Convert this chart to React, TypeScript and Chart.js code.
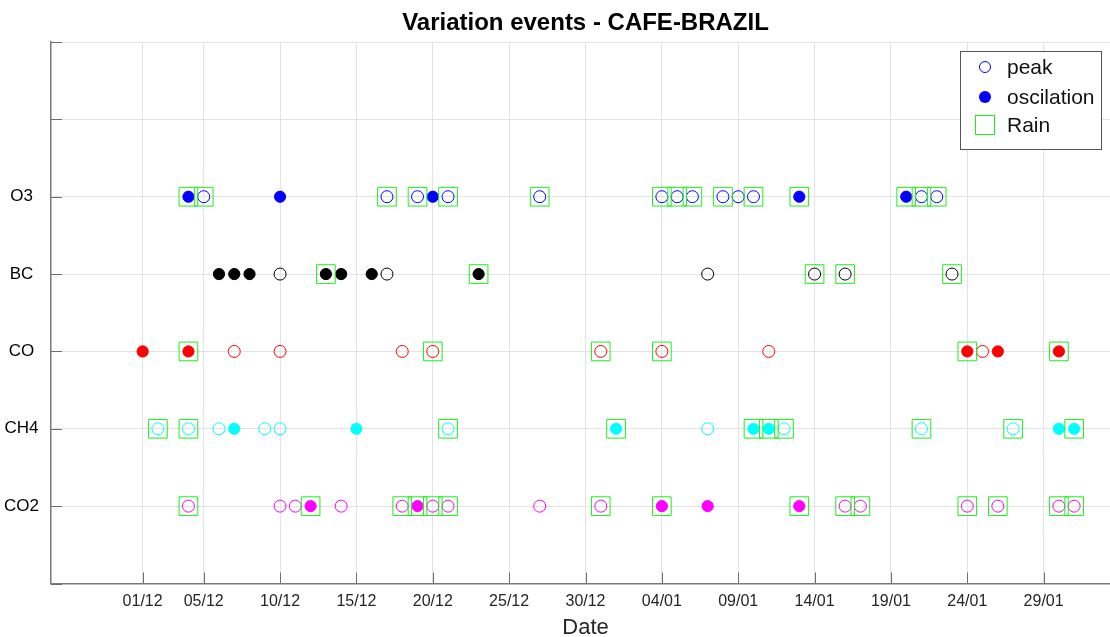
import React, { useEffect, useRef } from 'react';
import { Chart, registerables } from 'chart.js';

Chart.register(...registerables);

// ---------- data ----------
const chartTitle = 'Variation events - CAFE-BRAZIL';
const xAxisTitle = 'Date';
const species = ['CO2', 'CH4', 'CO', 'BC', 'O3'];
const tickLabels = ['01/12', '05/12', '10/12', '15/12', '20/12', '25/12', '30/12', '04/01', '09/01', '14/01', '19/01', '24/01', '29/01'];
const xStart = '25/11';
const xEnd = '03/02';
const legendLabels = ['peak', 'oscilation', 'Rain'];

const co2Peak = ['04/12', '10/12', '11/12', '14/12', '18/12', '20/12', '21/12', '27/12', '31/12', '16/01', '17/01', '24/01', '26/01', '30/01', '31/01'];
const co2Osc = ['12/12', '19/12', '04/01', '07/01', '13/01'];
const co2Rain = ['04/12', '12/12', '18/12', '19/12', '20/12', '21/12', '31/12', '04/01', '13/01', '16/01', '17/01', '24/01', '26/01', '30/01', '31/01'];

const ch4Peak = ['02/12', '04/12', '06/12', '09/12', '10/12', '21/12', '07/01', '12/01', '21/01', '27/01'];
const ch4Osc = ['07/12', '15/12', '01/01', '10/01', '11/01', '30/01', '31/01'];
const ch4Rain = ['02/12', '04/12', '21/12', '01/01', '10/01', '11/01', '12/01', '21/01', '27/01', '31/01'];

const coPeak = ['07/12', '10/12', '18/12', '20/12', '31/12', '04/01', '11/01', '25/01'];
const coOsc = ['01/12', '04/12', '24/01', '26/01', '30/01'];
const coRain = ['04/12', '20/12', '31/12', '04/01', '24/01', '30/01'];

const bcPeak = ['10/12', '17/12', '07/01', '14/01', '16/01', '23/01'];
const bcOsc = ['06/12', '07/12', '08/12', '13/12', '14/12', '16/12', '23/12'];
const bcRain = ['13/12', '23/12', '14/01', '16/01', '23/01'];

const o3Peak = ['05/12', '17/12', '19/12', '21/12', '27/12', '04/01', '05/01', '06/01', '08/01', '09/01', '10/01', '21/01', '22/01'];
const o3Osc = ['04/12', '10/12', '20/12', '13/01', '20/01'];
const o3Rain = ['04/12', '05/12', '17/12', '19/12', '21/12', '27/12', '04/01', '05/01', '06/01', '08/01', '10/01', '13/01', '20/01', '21/01', '22/01'];

const peaks = [co2Peak, ch4Peak, coPeak, bcPeak, o3Peak];
const oscs = [co2Osc, ch4Osc, coOsc, bcOsc, o3Osc];
const rains = [co2Rain, ch4Rain, coRain, bcRain, o3Rain];

// ---------- styles ----------
const colors = ['#ff00ff', '#00ffff', '#ff0000', '#000000', '#0000ff'];
const rainColor = '#1cf01c';
const FONT = '"Liberation Sans", Arial, Helvetica, sans-serif';

// days since 1 December
function dayIndex(s: string): number {
  const [d, m] = s.split('/').map(Number);
  if (m === 11) return d - 31;
  if (m === 12) return d - 1;
  if (m === 1) return 30 + d;
  return 61 + d;
}

const tickValues = tickLabels.map(dayIndex);

const toPoints = (dates: string[], row: number) => dates.map((d) => ({ x: dayIndex(d), y: row + 1 }));

const decorPlugin = {
  id: 'decor',
  beforeDatasetsDraw(chart: any) {
    const { ctx, chartArea, scales } = chart;
    const { left, bottom } = chartArea;
    ctx.save();
    ctx.strokeStyle = '#6e6e6e';
    ctx.lineWidth = 1;
    ctx.beginPath();
    for (const t of scales.y.ticks) {
      const py = Math.round(scales.y.getPixelForValue(t.value)) + 0.5;
      ctx.moveTo(left, py);
      ctx.lineTo(left + 11, py);
    }
    for (const t of scales.x.ticks) {
      const px = Math.round(scales.x.getPixelForValue(t.value)) + 0.5;
      ctx.moveTo(px, bottom);
      ctx.lineTo(px, bottom - 11);
    }
    ctx.stroke();
    ctx.restore();
  },
  afterDraw(chart: any) {
    const ctx = chart.ctx;
    ctx.save();
    const bx = 960.5, by = 51.5, bw = 141, bh = 98;
    ctx.fillStyle = '#ffffff';
    ctx.fillRect(bx, by, bw, bh);
    ctx.strokeStyle = '#555555';
    ctx.lineWidth = 1;
    ctx.strokeRect(bx, by, bw, bh);
    const mx = 985;
    const rowsY = [67, 97, 125];
    // peak
    ctx.beginPath();
    ctx.arc(mx, rowsY[0], 5.5, 0, Math.PI * 2);
    ctx.strokeStyle = colors[4];
    ctx.stroke();
    // oscillation
    ctx.beginPath();
    ctx.arc(mx, rowsY[1], 6, 0, Math.PI * 2);
    ctx.fillStyle = colors[4];
    ctx.fill();
    // rain
    ctx.strokeStyle = rainColor;
    ctx.strokeRect(mx - 9.5, rowsY[2] - 9.5, 19, 19);
    ctx.fillStyle = '#111111';
    ctx.font = `21px ${FONT}`;
    ctx.textBaseline = 'middle';
    ctx.textAlign = 'left';
    legendLabels.forEach((l, i) => ctx.fillText(l, 1007, rowsY[i] + 1));
    ctx.restore();
  },
};

export default function App() {
  const ref = useRef<HTMLCanvasElement>(null);

  useEffect(() => {
    if (!ref.current) return;
    const datasets: any[] = [];
    species.forEach((sp, i) => {
      datasets.push({
        label: sp + ' peak',
        data: toPoints(peaks[i], i),
        pointStyle: 'circle',
        pointRadius: 6,
        pointBorderWidth: 1,
        borderColor: colors[i],
        backgroundColor: 'rgba(0,0,0,0)',
        order: 2,
      });
      datasets.push({
        label: sp + ' oscillation',
        data: toPoints(oscs[i], i),
        pointStyle: 'circle',
        pointRadius: 5.6,
        pointBorderWidth: 1,
        borderColor: colors[i],
        backgroundColor: colors[i],
        order: 2,
      });
      datasets.push({
        label: sp + ' rain',
        data: toPoints(rains[i], i),
        pointStyle: 'rect',
        pointRadius: 13.2,
        pointBorderWidth: 1,
        borderColor: rainColor,
        backgroundColor: 'rgba(0,0,0,0)',
        order: 1,
      });
    });

    const chart = new Chart(ref.current, {
      type: 'scatter',
      data: { datasets },
      plugins: [decorPlugin],
      options: {
        animation: false,
        responsive: false,
        devicePixelRatio: 1,
        layout: { padding: 0, autoPadding: false },
        plugins: {
          legend: { display: false },
          tooltip: { enabled: false },
          title: {
            display: true,
            text: chartTitle,
            color: '#000',
            font: { size: 24, weight: 'bold', family: FONT },
            padding: { top: 9, bottom: 4.2 },
          },
        },
        scales: {
          x: {
            type: 'linear',
            min: dayIndex(xStart),
            max: dayIndex(xEnd),
            afterBuildTicks: (scale: any) => {
              scale.ticks = tickValues.map((v) => ({ value: v }));
            },
            afterFit: (scale: any) => {
              scale.height = 66.5;
            },
            ticks: {
              autoSkip: false,
              maxRotation: 0,
              padding: 8,
              color: '#262626',
              font: { size: 16, family: FONT },
              callback: (v: any) => {
                const k = tickValues.indexOf(Number(v));
                return k >= 0 ? tickLabels[k] : '';
              },
            },
            grid: { color: '#e3e3e3', drawTicks: false, lineWidth: 1 },
            border: { display: true, color: '#7a7a7a', width: 1.5 },
            title: {
              display: true,
              text: xAxisTitle,
              color: '#262626',
              font: { size: 22, family: FONT },
              padding: { top: 0, bottom: 9 },
            },
          },
          y: {
            type: 'linear',
            position: 'left',
            min: 0,
            max: 7,
            afterBuildTicks: (scale: any) => {
              scale.ticks = [0, 1, 2, 3, 4, 5, 6, 7].map((v) => ({ value: v }));
            },
            afterFit: (scale: any) => {
              scale.width = 51;
            },
            ticks: {
              crossAlign: 'center',
              padding: 12,
              color: '#000',
              font: { size: 17, family: FONT },
              callback: (v: any) => species[Number(v) - 1] ?? '',
            },
            grid: { color: '#e3e3e3', drawTicks: false, lineWidth: 1 },
            border: { display: true, color: '#7a7a7a', width: 1.5 },
          },
          y2: {
            type: 'linear',
            position: 'right',
            min: 0,
            max: 7,
            afterFit: (scale: any) => {
              scale.width = 51;
            },
            ticks: { display: false },
            grid: { display: false, drawTicks: false },
            border: { display: false },
          },
        },
      } as any,
    });
    return () => chart.destroy();
  }, []);

  return (
    <div style={{ position: 'fixed', left: 0, top: 0, width: 1110, height: 637, overflow: 'hidden', background: '#fff' }}>
      <canvas ref={ref} width={1171} height={650} style={{ display: 'block', width: 1171, height: 650 }} />
    </div>
  );
}
